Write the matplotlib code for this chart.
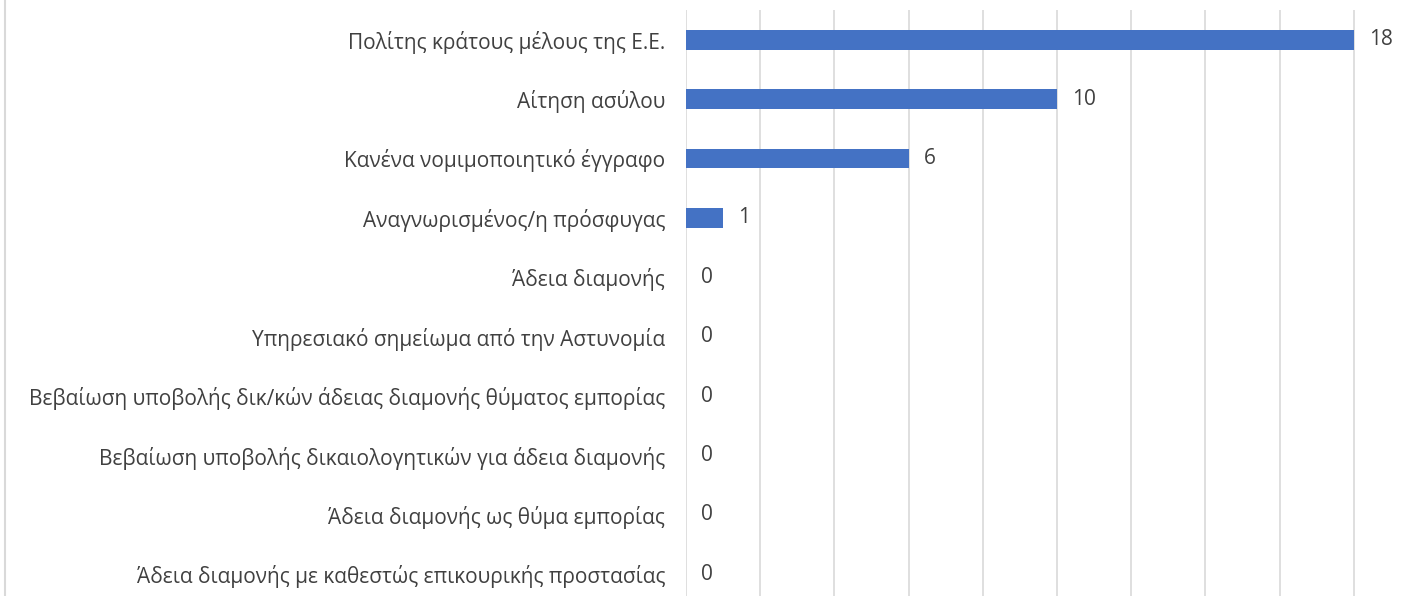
import matplotlib
matplotlib.use("Agg")
import matplotlib.pyplot as plt
from matplotlib.lines import Line2D

categories = [
    "Πολίτης κράτους μέλους της Ε.Ε.",
    "Αίτηση ασύλου",
    "Κανένα νομιμοποιητικό έγγραφο",
    "Αναγνωρισμένος/η πρόσφυγας",
    "Άδεια διαμονής",
    "Υπηρεσιακό σημείωμα από την Αστυνομία",
    "Βεβαίωση υποβολής δικ/κών άδειας διαμονής θύματος εμπορίας",
    "Βεβαίωση υποβολής δικαιολογητικών για άδεια διαμονής",
    "Άδεια διαμονής ως θύμα εμπορίας",
    "Άδεια διαμονής με καθεστώς επικουρικής προστασίας",
]
values = [18, 10, 6, 1, 0, 0, 0, 0, 0, 0]
x_ticks = [0, 2, 4, 6, 8, 10, 12, 14, 16, 18, 20]

plt.rcParams['font.family'] = ['Open Sans', 'DejaVu Sans']
W, H = 1426, 596
fig = plt.figure(figsize=(W / 100, H / 100), dpi=100)
fig.patch.set_facecolor('white')

left = 686 / W
right = (686 + 20 * 37.1) / W
top_px, bot_px = 10, 604
ax = fig.add_axes([left, 1 - bot_px / H, right - left, (bot_px - top_px) / H])
ax.set_facecolor('none')

ypos = list(range(len(categories)))
ax.barh(ypos, values, height=0.33, color='#4472C4', zorder=3)
ax.set_ylim(len(categories) - 0.5, -0.5)
ax.set_xlim(0, 20)
ax.set_xticks(x_ticks)
ax.tick_params(axis='x', length=0, labelbottom=False)
ax.tick_params(axis='y', length=0, pad=15, labelsize=15, labelcolor='#404040')
ax.set_yticks(ypos)
ax.set_yticklabels(categories)
ax.grid(axis='x', color='#D9D9D9', linewidth=1.2, zorder=0)
for s in ax.spines.values():
    s.set_visible(False)

for y, v in zip(ypos, values):
    ax.annotate(str(v), xy=(v, y), xytext=(15, 0), textcoords='offset pixels',
                ha='left', va='center', fontsize=15, color='#404040')

fig.add_artist(Line2D([4.5 / W, 4.5 / W], [0, 1], transform=fig.transFigure,
                      color='#D9D9D9', linewidth=1.5))

fig.savefig('out.png', dpi=100)
